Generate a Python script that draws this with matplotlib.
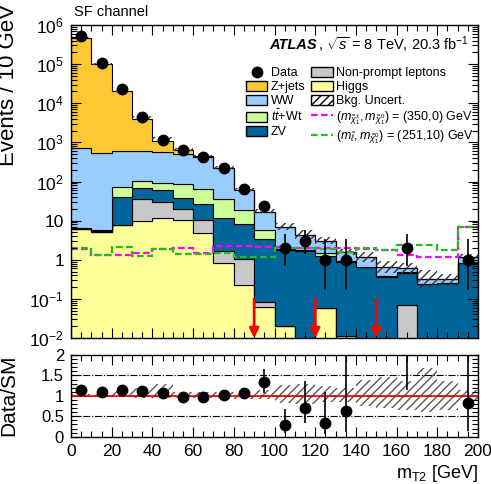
import numpy as np
import matplotlib
matplotlib.use('Agg')
import matplotlib.pyplot as plt
from matplotlib.patches import Patch
from matplotlib.lines import Line2D
from matplotlib.ticker import MultipleLocator, LogLocator, FuncFormatter, NullFormatter

plt.rcParams['font.family'] = ['Liberation Sans', 'DejaVu Sans']
plt.rcParams['mathtext.fontset'] = 'custom'
plt.rcParams['mathtext.rm'] = 'Liberation Sans'
plt.rcParams['mathtext.it'] = 'Liberation Sans:italic'
plt.rcParams['mathtext.bf'] = 'Liberation Sans:bold'
plt.rcParams['hatch.linewidth'] = 1.0

# m_T2 bins, 10 GeV wide
edges = np.arange(0, 201, 10)
centers = edges[:-1] + 5

# backgrounds, stacked bottom -> top
higgs = [6.0, 5.2, 7.8, 9.8, 11.5, 10.5, 4.8, 0.81, 0.22, 0.063,
         0.02, 0.0, 0.06, 0.011, 0, 0, 0, 0, 0, 0]
nonprompt = [0.05, 0.05, 0.1, 25, 18.5, 9.5, 5.7, 0.9, 0.8, 0.022,
             0, 0, 0, 0, 0, 0, 0.069, 0, 0, 0]
zv = [0.25, 0.25, 32, 32, 29, 17, 16.5, 9.8, 7.0, 3.4,
      1.78, 1.7, 1.21, 0.89, 0.65, 0.37, 0.40, 0.24, 0.26, 0.82]
ttbar = [0.2, 0.2, 34, 35, 34, 48, 36, 23.5, 10.6, 2.2,
         0.1, 0.05, 0.23, 0.02, 0.01, 0.01, 0.01, 0, 0, 0.01]
ww = [704, 544, 526, 508, 477, 405, 367, 185, 43, 11.3,
      4.9, 2.55, 1.5, 0.68, 0.49, 0.27, 0.13, 0.08, 0.06, 0.37]
zjets = [4.59e5, 9.95e4, 1.94e4, 3390, 510, 150, 10, 2, 0.5, 0.1,
         0.05, 0.02, 0, 0, 0, 0, 0, 0, 0, 0]

data = np.array([5.3e5, 1.1e5, 2.3e4, 4500, 1150, 620, 430, 225, 66, 23,
                 2, 3, 1, 1, 0, 0, 2, 0, 0, 1])
data_lo = np.array([730, 330, 150, 67, 34, 25, 21, 15, 8, 4.8,
                    1.3, 1.6, 0.83, 0.83, 0, 0, 1.3, 0, 0, 0.83])
data_hi = np.array([730, 330, 150, 67, 34, 25, 21, 15, 8, 5.5,
                    2.6, 2.9, 2.3, 2.3, 0, 0, 2.6, 0, 0, 2.3])

# relative background uncertainty
band_lo = np.array([0.97, 0.97, 0.97, 0.95, 0.95, 0.95, 0.95, 0.95, 0.93, 0.93,
                    0.82, 0.8, 0.85, 0.85, 0.74, 0.70, 0.66, 0.61, 0.65, 0.88])
band_hi = np.array([1.05, 1.05, 1.12, 1.2, 1.3, 1.1, 1.1, 1.1, 1.1, 1.15,
                    1.27, 1.3, 1.25, 1.2, 1.39, 1.47, 1.37, 1.68, 1.37, 1.15])

# signal points
sig_350_0 = [1.9, 1.35, 1.35, 1.5, 1.9, 1.96, 1.5, 2.3, 2.2, 2.1,
             2.1, 2.0, 2.0, 2.0, 1.9, 1.8, 1.3, 1.2, 1.2, 7.0]
sig_251_10 = [1.96, 1.3, 2.1, 1.27, 1.9, 1.4, 1.4, 1.5, 1.2, 1.2,
              2.0, 2.0, 1.85, 1.6, 2.0, 1.75, 2.4, 2.4, 1.8, 7.0]

arrow_x = [90, 120, 150]

fig = plt.figure(figsize=(4.91, 4.84), dpi=100)
W, H = 491.0, 484.0
ax = fig.add_axes([71 / W, 146 / H, 407 / W, 313 / H])
axr = fig.add_axes([71 / W, 47.3 / H, 407 / W, 81.7 / H])

layers = [(higgs, '#ffff99'), (nonprompt, '#c8c8c8'), (zv, '#006699'),
          (ttbar, '#ccff99'), (ww, '#99ccff'), (zjets, '#ffc832')]
floor = 1e-5
bottom = np.full(len(centers), floor)
cum = np.zeros(len(centers))
for vals, col in layers:
    cum = cum + np.array(vals, dtype=float)
    top = np.maximum(cum, floor)
    ax.stairs(top, edges, baseline=bottom, fill=True, facecolor=col,
              edgecolor='black', linewidth=0.8)
    bottom = top
total = cum

ax.stairs(total * band_hi, edges, baseline=total * band_lo, fill=True,
          facecolor='none', edgecolor='0.2', hatch='////', linewidth=0)

ax.stairs(sig_350_0, edges, baseline=None, color='magenta', linewidth=1.6,
          linestyle=(0, (3, 1.5)))
ax.stairs(sig_251_10, edges, baseline=None, color='#22bb22', linewidth=1.6,
          linestyle=(0, (3, 1.5)))

m = data > 0
ax.errorbar(centers[m], data[m], yerr=[data_lo[m], data_hi[m]], fmt='o',
            color='black', ms=7.5, elinewidth=1.2, capsize=0, zorder=5)

for xa in arrow_x:
    ax.annotate('', xy=(xa, 1e-2), xytext=(xa, 1e-1),
                arrowprops=dict(arrowstyle='-|>', color='red', lw=2,
                                mutation_scale=14, shrinkA=0, shrinkB=0))

ax.set_yscale('log')
ax.set_ylim(1e-2, 1e6)
ax.set_xlim(0, 200)


def logfmt(v, p):
    n = int(round(np.log10(v)))
    if n == 0:
        return '1'
    if n == 1:
        return '10'
    return '10$^{%d}$' % n


ax.yaxis.set_major_locator(LogLocator(base=10, numticks=20))
ax.yaxis.set_minor_locator(LogLocator(base=10, subs=np.arange(2, 10), numticks=100))
ax.yaxis.set_major_formatter(FuncFormatter(logfmt))
ax.yaxis.set_minor_formatter(NullFormatter())
ax.tick_params(labelbottom=False)

# ratio panel
axr.stairs(band_hi, edges, baseline=band_lo, fill=True, facecolor='none',
           edgecolor='0.35', hatch='////', linewidth=0)
for yv in [0.5, 1.0, 1.5]:
    axr.axhline(yv, color='black', ls='-.', lw=0.8)
axr.axhline(1.0, color='red', lw=1.2)
ratio = data / total
axr.errorbar(centers[m], ratio[m], yerr=[data_lo[m] / total[m], data_hi[m] / total[m]],
             fmt='o', color='black', ms=7.5, elinewidth=1.2, capsize=0, zorder=5)
axr.set_xlim(0, 200)
axr.set_ylim(0, 2)
axr.yaxis.set_major_locator(MultipleLocator(0.5))
axr.yaxis.set_minor_locator(MultipleLocator(0.1))
axr.yaxis.set_major_formatter(FuncFormatter(lambda v, p: '%g' % v))

for a in (ax, axr):
    a.xaxis.set_major_locator(MultipleLocator(20))
    a.xaxis.set_minor_locator(MultipleLocator(5))
    a.tick_params(which='both', direction='in', top=True, right=True,
                  labelsize=12.5, pad=5)
    a.tick_params(which='major', length=7, width=0.8)
    a.tick_params(which='minor', length=4, width=0.8)
    for s in a.spines.values():
        s.set_linewidth(1.0)
axr.tick_params(axis='y', labelsize=12)

# labels (partly cut at the left edge, as in the source)
fig.text(9 / W, 1 - 4 / H, 'Events / 10 GeV', rotation=90, ha='center',
         va='top', fontsize=16)
fig.text(9 / W, 1 - 354 / H, 'Data/SM', rotation=90, ha='center',
         va='top', fontsize=15)
fig.text(478 / W, 1 - 474 / H, 'm$_{\\mathrm{T2}}$ [GeV]', ha='right',
         va='center', fontsize=13)
fig.text(74 / W, 1 - 12 / H, 'SF channel', ha='left', va='center', fontsize=10.5)

fig.canvas.draw()
r = fig.canvas.get_renderer()
t1 = fig.text(269 / W, 1 - 45 / H, 'ATLAS', ha='left', va='center',
              fontsize=10.5, fontweight='bold', fontstyle='italic')
bb = t1.get_window_extent(r)
fig.text((bb.x1 + 1) / W, 1 - 45 / H, ', $\\sqrt{s}$ = 8 TeV, 20.3 fb$^{-1}$',
         ha='left', va='center', fontsize=10.5)

handles = [
    Line2D([], [], marker='o', color='black', ls='none', ms=7.5),
    Patch(facecolor='#ffc832', edgecolor='black'),
    Patch(facecolor='#99ccff', edgecolor='black'),
    Patch(facecolor='#ccff99', edgecolor='black'),
    Patch(facecolor='#006699', edgecolor='black'),
    Patch(facecolor='#c8c8c8', edgecolor='black'),
    Patch(facecolor='#ffff99', edgecolor='black'),
    Patch(facecolor='white', edgecolor='black', hatch='////'),
    Line2D([], [], color='magenta', lw=1.6, ls=(0, (3, 1.5))),
    Line2D([], [], color='#22bb22', lw=1.6, ls=(0, (3, 1.5))),
]
labels = ['Data', 'Z+jets', 'WW', r'$t\bar{t}$+Wt', 'ZV',
          'Non-prompt leptons', 'Higgs', 'Bkg. Uncert.',
          r'$(m_{\tilde{\chi}^{\pm}_{1}},m_{\tilde{\chi}^{0}_{1}})$ = (350,0) GeV',
          r'$(m_{\tilde{\ell}},m_{\tilde{\chi}^{0}_{1}})$ = (251,10) GeV']
ax.legend(handles, labels, ncol=2, loc='upper left',
          bbox_to_anchor=((246 - 71) / 407, (338 - 67) / 313),
          frameon=False, fontsize=9, handlelength=1.7, handleheight=0.8,
          labelspacing=0.15, columnspacing=0.45, handletextpad=0.3,
          borderpad=0, borderaxespad=0)

fig.savefig('out.png', dpi=100)
